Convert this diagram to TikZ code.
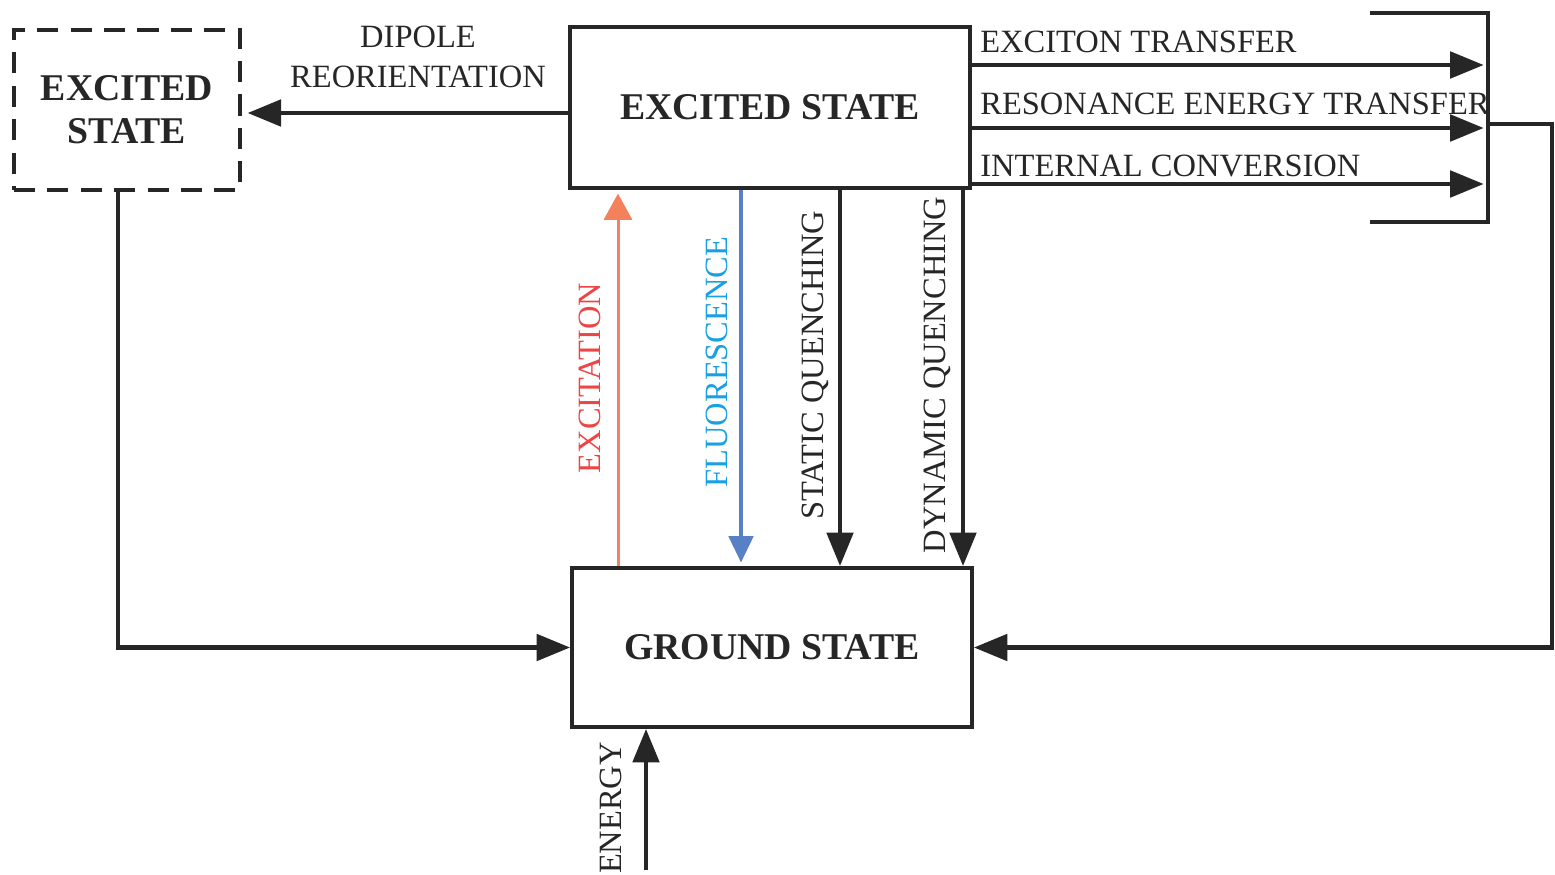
\documentclass[tikz,border=0pt]{standalone}
\usepackage{fontspec}
\setmainfont{Liberation Serif}
\usetikzlibrary{arrows.meta}
\definecolor{ink}{RGB}{38,38,38}
\definecolor{exccol}{RGB}{243,130,92}
\definecolor{exctxt}{RGB}{238,68,68}
\definecolor{flucol}{RGB}{88,128,196}
\definecolor{flutxt}{RGB}{25,160,228}
\tikzset{
  statebox/.style={draw=ink, line width=2.3pt, rectangle, text=ink, inner sep=0pt,
    font=\fontsize{21.5}{24.5}\selectfont\bfseries},
  lbl/.style={font=\fontsize{18.5}{21}\selectfont, text=ink, inner sep=0pt},
  arr/.style={draw=ink, line width=2.3pt, -{Triangle[length=19pt,width=15pt]}},
}
\begin{document}
\begin{tikzpicture}[x=0.02cm,y=-0.02cm]
\useasboundingbox (0,0) rectangle (1555,875);
% the three states
\node[statebox, minimum width=8cm, minimum height=3.22cm] (exc) at (770,107.5) {EXCITED STATE};
\node[statebox, minimum width=8cm, minimum height=3.18cm] (gnd) at (772,647.5) {GROUND STATE};
\node[statebox, dash pattern=on 12pt off 7pt, line width=2.8pt, align=center,
  minimum width=4.52cm, minimum height=3.2cm] (dash) at (127,110) {EXCITED\\STATE};
% dipole reorientation
\draw[arr, shorten >=3pt] (exc.west |- 0,113) -- (dash.east |- 0,113);
\node[lbl, align=center] (dipole) at (418,57) {DIPOLE\\[1.5pt]REORIENTATION};
\draw[arr] (dash.south -| 118,0) |- (gnd.west);
% transfers to the right
\coordinate (btop) at (1488,13);
\coordinate (bbot) at (1488,222);
\coordinate (btopl) at (1370,13);
\coordinate (bbotl) at (1370,222);
\draw[ink, line width=2.3pt] (btopl) -- (btop) -- (bbot) -- (bbotl);
\draw[arr, shorten >=2.5pt] (exc.east |- 0,65) -- (btop |- 0,65);
\draw[arr, shorten >=2.5pt] (exc.east |- 0,128) -- (btop |- 0,128);
\draw[arr, shorten >=2.5pt] (exc.east |- 0,184) -- (btop |- 0,184);
\node[lbl, anchor=west] (exciton) at (980,42) {EXCITON TRANSFER};
\node[lbl, anchor=west] (reson) at (980,104) {RESONANCE ENERGY TRANSFER};
\node[lbl, anchor=west] (intconv) at (980,166) {INTERNAL CONVERSION};
\draw[arr] (btop |- 0,124) -- ++(64,0) |- (gnd.east);
% vertical transitions
\draw[draw=exccol, line width=1.7pt, -{Triangle[length=15pt,width=16pt]}]
  (gnd.north -| 618,0) -- ([yshift=-2pt]exc.south -| 618,0);
\draw[draw=flucol, line width=1.8pt, -{Triangle[length=15pt,width=14pt]}]
  (exc.south -| 741,0) -- ([yshift=2pt]gnd.north -| 741,0);
\draw[arr] (exc.south -| 840,0) -- (gnd.north -| 840,0);
\draw[arr] (exc.south -| 963,0) -- (gnd.north -| 963,0);
\node[lbl, rotate=90, text=exctxt] (excit) at (590,378) {EXCITATION};
\node[lbl, rotate=90, text=flutxt] (fluor) at (717,362) {FLUORESCENCE};
\node[lbl, rotate=90] (statq) at (815,365) {STATIC QUENCHING};
\node[lbl, rotate=90] (dynq) at (937,375) {DYNAMIC QUENCHING};
% energy input
\coordinate (esrc) at (646,870);
\draw[arr] (esrc) -- (gnd.south -| esrc);
\node[lbl, rotate=90] (energy) at (611,808) {ENERGY};
\end{tikzpicture}
\end{document}
